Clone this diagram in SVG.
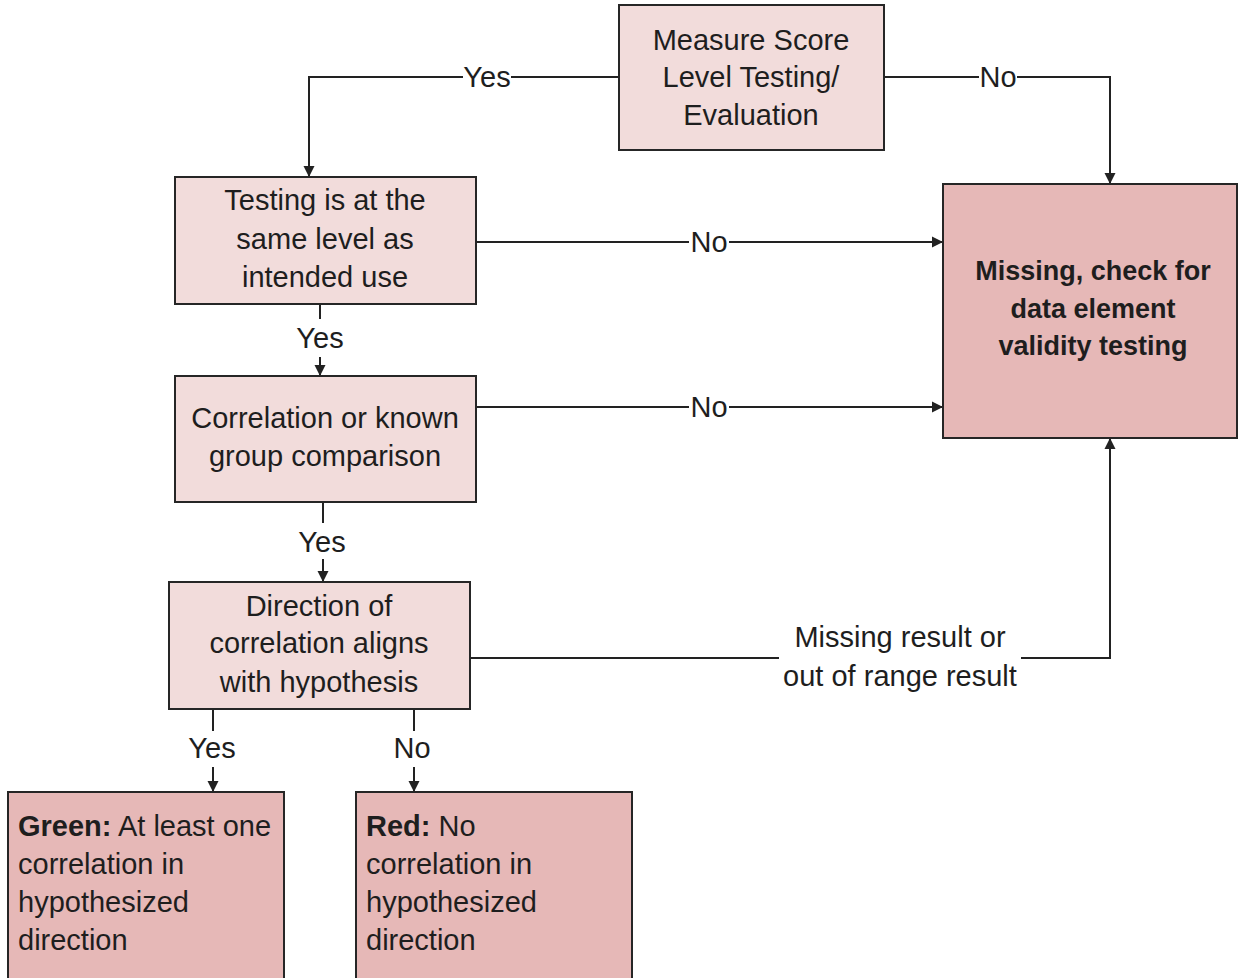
<svg xmlns="http://www.w3.org/2000/svg" width="1238" height="978" viewBox="0 0 1238 978">
<style>
.box{stroke:#262626;stroke-width:2}
.light{fill:#f2dcdb}
.dark{fill:#e6b8b7}
text{font-family:"Liberation Sans",Arial,sans-serif;font-size:29px;fill:#1e1e1e}
.c{text-anchor:middle}
.b{font-weight:bold}
.mb{font-size:27px}
.conn{fill:none;stroke:#222;stroke-width:2}
.bg{fill:#fff}
</style>
<defs>
<marker id="arr" markerUnits="userSpaceOnUse" markerWidth="14" markerHeight="14" refX="11" refY="7" orient="auto">
<path d="M0,1.5 L11,7 L0,12.5 Z" fill="#222"/>
</marker>
</defs>
<rect width="1238" height="978" fill="#fff"/>
<g id="connectors">
<path class="conn" d="M619,77 H309 V177" marker-end="url(#arr)"/>
<path class="conn" d="M884,77 H1110 V184" marker-end="url(#arr)"/>
<path class="conn" d="M476,242 H943" marker-end="url(#arr)"/>
<path class="conn" d="M476,407 H943" marker-end="url(#arr)"/>
<path class="conn" d="M320,304 V376" marker-end="url(#arr)"/>
<path class="conn" d="M323,502 V582" marker-end="url(#arr)"/>
<path class="conn" d="M470,658 H1110 V438" marker-end="url(#arr)"/>
<path class="conn" d="M213,709 V792" marker-end="url(#arr)"/>
<path class="conn" d="M414,709 V792" marker-end="url(#arr)"/>
<rect class="bg" x="463" y="62" width="48" height="30"/>
<text class="c" x="487" y="87">Yes</text>
<rect class="bg" x="979" y="62" width="38" height="30"/>
<text class="c" x="998" y="87">No</text>
<rect class="bg" x="689" y="227" width="40" height="30"/>
<text class="c" x="709" y="252">No</text>
<rect class="bg" x="689" y="392" width="40" height="30"/>
<text class="c" x="709" y="417">No</text>
<rect class="bg" x="295" y="319" width="50" height="38"/>
<text class="c" x="320" y="348">Yes</text>
<rect class="bg" x="297" y="523" width="50" height="36"/>
<text class="c" x="322" y="552">Yes</text>
<rect class="bg" x="187" y="731" width="50" height="36"/>
<text class="c" x="212" y="758">Yes</text>
<rect class="bg" x="392" y="731" width="40" height="36"/>
<text class="c" x="412" y="758">No</text>
<rect class="bg" x="779" y="646" width="242" height="24"/>
<text class="c" x="900" y="647">Missing result or</text>
<text class="c" x="900" y="686">out of range result</text>
</g>
<g id="node-measure">
<rect class="box light" x="619" y="5" width="265" height="145"/>
<text class="c" x="751" y="50">Measure Score</text>
<text class="c" x="751" y="87">Level Testing/</text>
<text class="c" x="751" y="125">Evaluation</text>
</g>
<g id="node-testing">
<rect class="box light" x="175" y="177" width="301" height="127"/>
<text class="c" x="325" y="210">Testing is at the</text>
<text class="c" x="325" y="249">same level as</text>
<text class="c" x="325" y="287">intended use</text>
</g>
<g id="node-correlation">
<rect class="box light" x="175" y="376" width="301" height="126"/>
<text class="c" x="325" y="428">Correlation or known</text>
<text class="c" x="325" y="466">group comparison</text>
</g>
<g id="node-direction">
<rect class="box light" x="169" y="582" width="301" height="127"/>
<text class="c" x="319" y="616">Direction of</text>
<text class="c" x="319" y="653">correlation aligns</text>
<text class="c" x="319" y="692">with hypothesis</text>
</g>
<g id="node-missing">
<rect class="box dark" x="943" y="184" width="294" height="254"/>
<text class="c b mb" x="1093" y="280">Missing, check for</text>
<text class="c b mb" x="1093" y="318">data element</text>
<text class="c b mb" x="1093" y="355">validity testing</text>
</g>
<g id="node-green">
<rect class="box dark" x="8" y="792" width="276" height="200"/>
<text x="18" y="836"><tspan class="b">Green:</tspan> At least one</text>
<text x="18" y="874">correlation in</text>
<text x="18" y="912">hypothesized</text>
<text x="18" y="950">direction</text>
</g>
<g id="node-red">
<rect class="box dark" x="356" y="792" width="276" height="200"/>
<text x="366" y="836"><tspan class="b">Red:</tspan> No</text>
<text x="366" y="874">correlation in</text>
<text x="366" y="912">hypothesized</text>
<text x="366" y="950">direction</text>
</g>
</svg>
